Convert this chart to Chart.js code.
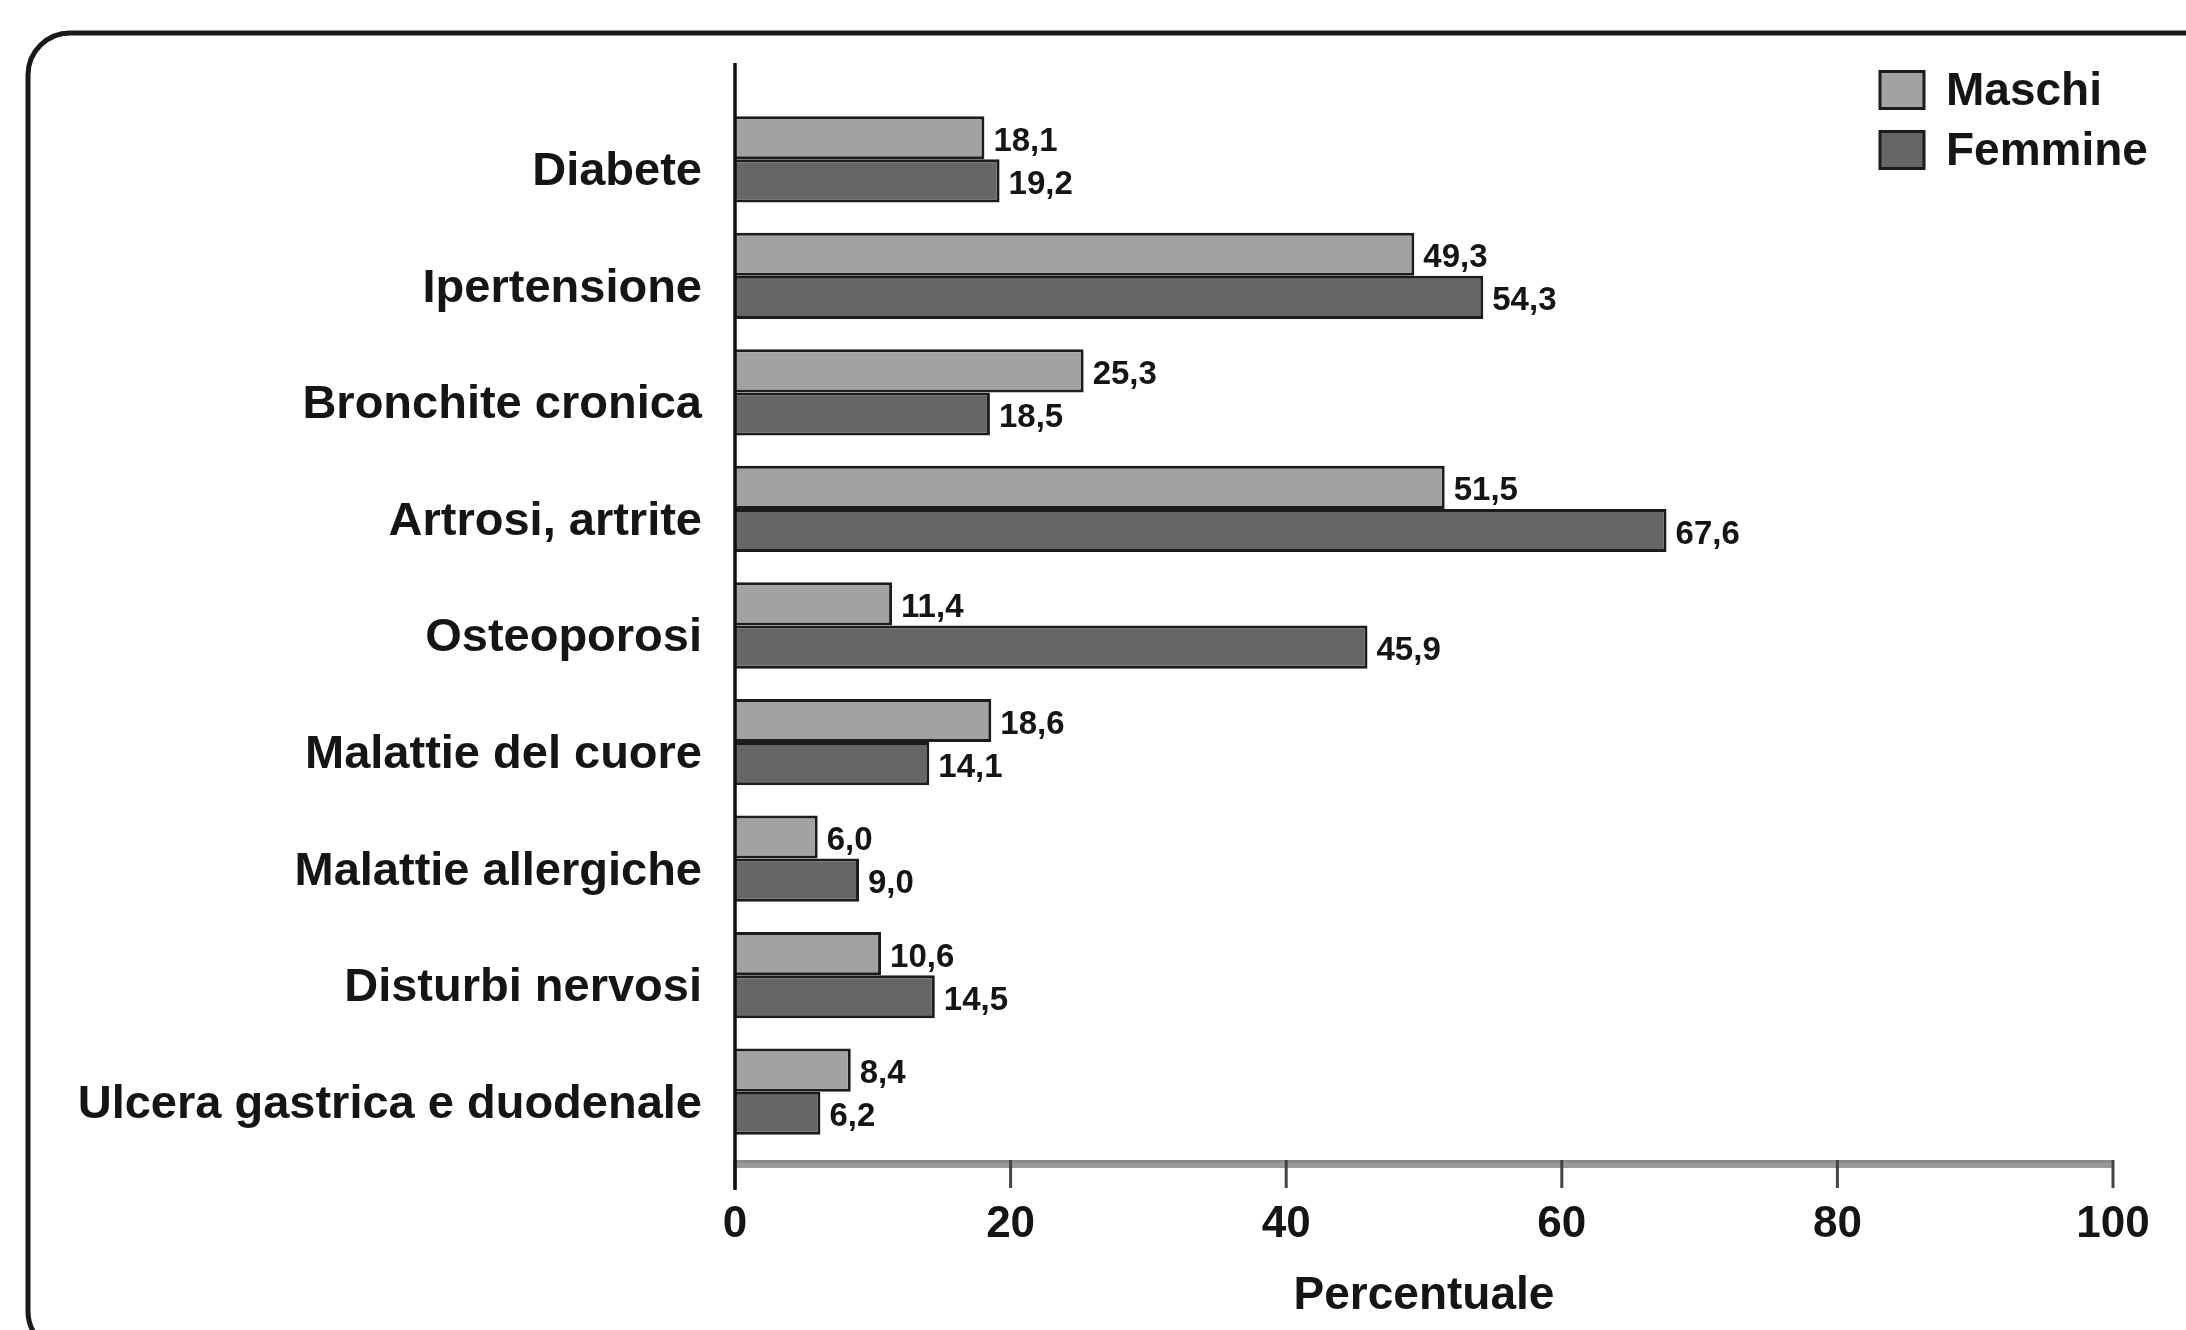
<!DOCTYPE html>
<html>
<head>
<meta charset="utf-8">
<script src="https://cdn.jsdelivr.net/npm/chart.js@4.4.1/dist/chart.umd.min.js"></script>
<style>
  html, body { margin: 0; padding: 0; background: #ffffff; }
  #wrap { width: 2186px; height: 1330px; }
</style>
</head>
<body>
<div id="wrap"><canvas id="c" width="2186" height="1330"></canvas></div>
<script>
const categories = [
  "Diabete",
  "Ipertensione",
  "Bronchite cronica",
  "Artrosi, artrite",
  "Osteoporosi",
  "Malattie del cuore",
  "Malattie allergiche",
  "Disturbi nervosi",
  "Ulcera gastrica e duodenale"
];
const seriesNames = ["Maschi", "Femmine"];
const maschi  = [18.1, 49.3, 25.3, 51.5, 11.4, 18.6, 6.0, 10.6, 8.4];
const femmine = [19.2, 54.3, 18.5, 67.6, 45.9, 14.1, 9.0, 14.5, 6.2];
const xTicks = [0, 20, 40, 60, 80, 100];
const axisTitle = "Percentuale";

const FONT = "'Liberation Sans', Arial, Helvetica, sans-serif";
const colors = ["#a2a2a2", "#666666"];
const borderCol = "#1c1c1c";

const fmt = v => v.toFixed(1).replace('.', ',');

const framePlugin = {
  id: 'frame',
  beforeDraw(chart) {
    const ctx = chart.ctx;
    ctx.save();
    ctx.fillStyle = '#ffffff';
    ctx.fillRect(0, 0, chart.width, chart.height);
    const x = 28, y = 33, w = 2200, h = 1320, r = 42;
    ctx.beginPath();
    ctx.moveTo(x + r, y);
    ctx.lineTo(x + w - r, y);
    ctx.arcTo(x + w, y, x + w, y + r, r);
    ctx.lineTo(x + w, y + h - r);
    ctx.arcTo(x + w, y + h, x + w - r, y + h, r);
    ctx.lineTo(x + r, y + h);
    ctx.arcTo(x, y + h, x, y + h - r, r);
    ctx.lineTo(x, y + r);
    ctx.arcTo(x, y, x + r, y, r);
    ctx.closePath();
    ctx.lineWidth = 5;
    ctx.strokeStyle = '#1a1a1a';
    ctx.stroke();
    ctx.restore();
  }
};

const axesPlugin = {
  id: 'axesDraw',
  afterDatasetsDraw(chart) {
    const ctx = chart.ctx;
    const xs = chart.scales.x;
    const x0 = xs.getPixelForValue(0);
    const x1 = xs.getPixelForValue(100);
    const barTop = 1160, barH = 8, tickBottom = 1188;
    ctx.save();
    ctx.fillStyle = '#9a9a9a';
    ctx.fillRect(x0, barTop, x1 - x0, barH);
    ctx.fillStyle = '#8a8a8a';
    ctx.fillRect(x0, barTop, x1 - x0, 3);
    ctx.strokeStyle = '#444444';
    ctx.lineWidth = 3;
    xTicks.forEach(t => {
      const px = xs.getPixelForValue(t);
      ctx.beginPath();
      ctx.moveTo(px, barTop);
      ctx.lineTo(px, tickBottom);
      ctx.stroke();
    });
    ctx.strokeStyle = '#111111';
    ctx.lineWidth = 3.5;
    ctx.beginPath();
    ctx.moveTo(x0, 63);
    ctx.lineTo(x0, 1190);
    ctx.stroke();

    ctx.fillStyle = '#151515';
    ctx.font = "bold 33px " + FONT;
    ctx.textAlign = 'left';
    ctx.textBaseline = 'middle';
    chart.data.datasets.forEach((ds, di) => {
      const meta = chart.getDatasetMeta(di);
      meta.data.forEach((bar, i) => {
        ctx.fillText(fmt(ds.data[i]), bar.x + 9, bar.y + 4);
      });
    });

    const boxX = 1880, boxW = 44, boxH = 37;
    const rows = [90, 150];
    ctx.font = "bold 46px " + FONT;
    chart.data.datasets.forEach((ds, di) => {
      const cy = rows[di];
      ctx.fillStyle = ds.backgroundColor;
      ctx.fillRect(boxX, cy - boxH / 2, boxW, boxH);
      ctx.lineWidth = 3;
      ctx.strokeStyle = borderCol;
      ctx.strokeRect(boxX, cy - boxH / 2, boxW, boxH);
      ctx.fillStyle = '#151515';
      ctx.fillText(ds.label, 1946, cy + 2);
    });
    ctx.restore();
  }
};

new Chart(document.getElementById('c'), {
  type: 'bar',
  data: {
    labels: categories,
    datasets: [
      { label: seriesNames[0], data: maschi, backgroundColor: colors[0], borderColor: borderCol, borderWidth: 3 },
      { label: seriesNames[1], data: femmine, backgroundColor: colors[1], borderColor: borderCol, borderWidth: 3 }
    ]
  },
  options: {
    indexAxis: 'y',
    responsive: false,
    animation: false,
    devicePixelRatio: 1,
    datasets: { bar: { categoryPercentage: 0.74, barPercentage: 1.0 } },
    layout: { padding: { top: 101, right: 73, bottom: 0, left: 0 } },
    plugins: { legend: { display: false }, tooltip: { enabled: false } },
    scales: {
      x: {
        type: 'linear',
        min: 0, max: 100,
        afterBuildTicks(scale) { scale.ticks = xTicks.map(v => ({ value: v })); },
        afterFit(scale) { scale.height = 180; scale.paddingLeft = 0; scale.paddingRight = 0; },
        grid: { display: false, drawTicks: false },
        border: { display: false },
        ticks: {
          padding: 48,
          color: '#151515',
          font: { family: FONT, size: 44, weight: 'bold' },
          maxRotation: 0
        },
        title: {
          display: true,
          text: axisTitle,
          color: '#151515',
          font: { family: FONT, size: 46, weight: 'bold' },
          padding: { top: 0, bottom: 6 }
        }
      },
      y: {
        afterFit(scale) { scale.width = 735; scale.paddingTop = 0; scale.paddingBottom = 0; },
        grid: { display: false, drawTicks: false },
        border: { display: false },
        ticks: {
          padding: 33,
          labelOffset: 13,
          color: '#151515',
          font: { family: FONT, size: 47, weight: 'bold' },
          autoSkip: false
        }
      }
    }
  },
  plugins: [framePlugin, axesPlugin]
});
</script>
</body>
</html>
